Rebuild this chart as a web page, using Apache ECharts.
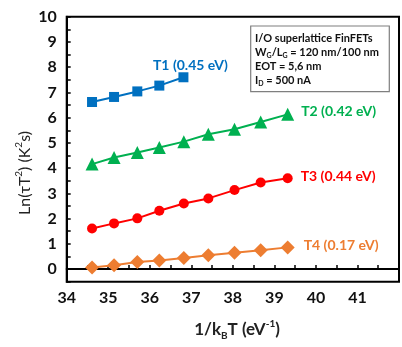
<!DOCTYPE html>
<html>
<head>
<meta charset="utf-8">
<script src="https://cdn.jsdelivr.net/npm/echarts@6/dist/echarts.min.js"></script>
<style>html,body{margin:0;padding:0;background:#fff;}#c{width:402px;height:347px;}</style>
</head>
<body>
<div id="c"></div>
<script>
// ---- data ----
const xT1 = [34.61, 35.14, 35.70, 36.23, 36.81];
const yT1 = [6.62, 6.82, 7.04, 7.27, 7.60];
const xAll = [34.61, 35.14, 35.70, 36.23, 36.82, 37.41, 38.04, 38.67, 39.32];
const yT2 = [4.16, 4.42, 4.62, 4.82, 5.05, 5.34, 5.54, 5.83, 6.13];
const yT3 = [1.61, 1.81, 2.01, 2.31, 2.60, 2.80, 3.13, 3.43, 3.60];
const yT4 = [0.06, 0.15, 0.28, 0.34, 0.44, 0.55, 0.65, 0.75, 0.86];
const seriesNames = ['T1 (0.45 eV)', 'T2 (0.42 eV)', 'T3 (0.44 eV)', 'T4 (0.17 eV)'];
const xTicks = [34, 35, 36, 37, 38, 39, 40, 41];
const yTicks = [0, 1, 2, 3, 4, 5, 6, 7, 8, 9, 10];

const colors = ['#0070C0', '#00B050', '#FF0000', '#ED7D31'];
const FONT = 'Lato, "Open Sans", sans-serif';

function build(xs, ys, name, color, symbol, size, lbl) {
  const data = xs.map((x, i) => {
    const item = { value: [x, ys[i]] };
    if (i === xs.length - 1) {
      item.label = Object.assign({
        show: true, formatter: name, color: color,
        fontFamily: FONT, fontWeight: 'bold', fontSize: 14
      }, lbl);
    }
    return item;
  });
  return {
    type: 'line', name: name, data: data, symbol: symbol, symbolSize: size,
    itemStyle: { color: color }, lineStyle: { color: color, width: 2 },
    z: 3
  };
}

const chart = echarts.init(document.getElementById('c'), null, { renderer: 'canvas' });
chart.setOption({
  animation: false,
  backgroundColor: '#fff',
  grid: { left: 66.7, top: 16.7, right: -26, bottom: 65.3, show: true, borderColor: '#000', borderWidth: 2 },
  xAxis: {
    type: 'value', min: 34, max: 42, interval: 0.5,
    axisLine: { show: true, lineStyle: { color: '#000', width: 2 } },
    axisTick: { show: true, inside: true, length: 4, lineStyle: { color: '#000', width: 1.5 } },
    splitLine: { show: false },
    axisLabel: {
      margin: 8, color: '#111', fontFamily: FONT, fontWeight: 'bold', fontSize: 16,
      formatter: v => xTicks.includes(v) ? String(v) : ''
    }
  },
  yAxis: {
    type: 'value', min: -0.5, max: 10, interval: 0.5,
    axisLine: { show: true, lineStyle: { color: '#000', width: 2 } },
    axisTick: { show: true, inside: true, length: 4, lineStyle: { color: '#000', width: 1.5 } },
    splitLine: { show: false },
    axisLabel: {
      margin: 10, color: '#111', fontFamily: FONT, fontWeight: 'bold', fontSize: 16,
      formatter: v => yTicks.includes(v) ? String(v) : ''
    }
  },
  series: [
    build(xT1, yT1, seriesNames[0], colors[0], 'rect', 10, { position: 'top', distance: 0, offset: [7, 0] }),
    build(xAll, yT2, seriesNames[1], colors[1], 'triangle', 13, { position: 'right', distance: 7, offset: [0, -3] }),
    build(xAll, yT3, seriesNames[2], colors[2], 'circle', 10, { position: 'right', distance: 8, offset: [0, -2] }),
    build(xAll, yT4, seriesNames[3], colors[3], 'diamond', 14, { position: 'right', distance: 9, offset: [0, -2] })
  ],
  graphic: [
    {
      type: 'rect', shape: { x: 250.7, y: 26, width: 138.6, height: 65.7 },
      style: { fill: '#fff', stroke: '#7f7f7f', lineWidth: 1.2 }, z: 10
    },
    {
      type: 'text', x: 255, y: 31, z: 11,
      style: {
        text: '{n|I/O superlattice FinFETs}\n{n|W}{s|G}{n|/L}{s|G}{n| = 120 nm/100 nm}\n{n|EOT = 5,6 nm}\n{n|I}{s|D}{n| = 500 nA}',
        fill: '#111', font: 'bold 11px ' + FONT,
        rich: {
          n: { fontFamily: FONT, fontWeight: 'bold', fontSize: 11, lineHeight: 14, fill: '#111' },
          s: { fontFamily: FONT, fontWeight: 'bold', fontSize: 7, lineHeight: 9, verticalAlign: 'bottom', fill: '#111' }
        }
      }
    },
    {
      type: 'text', x: 237, y: 330, z: 11,
      style: {
        text: '{n|1/k}{s|B}{n|T (eV}{p|-1}{n|)}',
        align: 'center', verticalAlign: 'middle',
        rich: {
          n: { fontFamily: FONT, fontWeight: 'bold', fontSize: 17, lineHeight: 22, fill: '#222' },
          s: { fontFamily: FONT, fontWeight: 'bold', fontSize: 10, lineHeight: 12, verticalAlign: 'bottom', fill: '#222' },
          p: { fontFamily: FONT, fontWeight: 'bold', fontSize: 10, lineHeight: 12, verticalAlign: 'top', fill: '#222' }
        }
      }
    },
    {
      type: 'text', x: 25, y: 173, rotation: Math.PI / 2, z: 11,
      style: {
        text: '{n|Ln(τT}{p|2}{n|) (K}{p|2}{n|s)}',
        align: 'center', verticalAlign: 'middle',
        rich: {
          n: { fontFamily: FONT, fontWeight: 'normal', fontSize: 16, lineHeight: 22, fill: '#222' },
          p: { fontFamily: FONT, fontWeight: 'normal', fontSize: 10, lineHeight: 12, verticalAlign: 'top', fill: '#222' }
        }
      }
    }
  ]
});
</script>
</body>
</html>
